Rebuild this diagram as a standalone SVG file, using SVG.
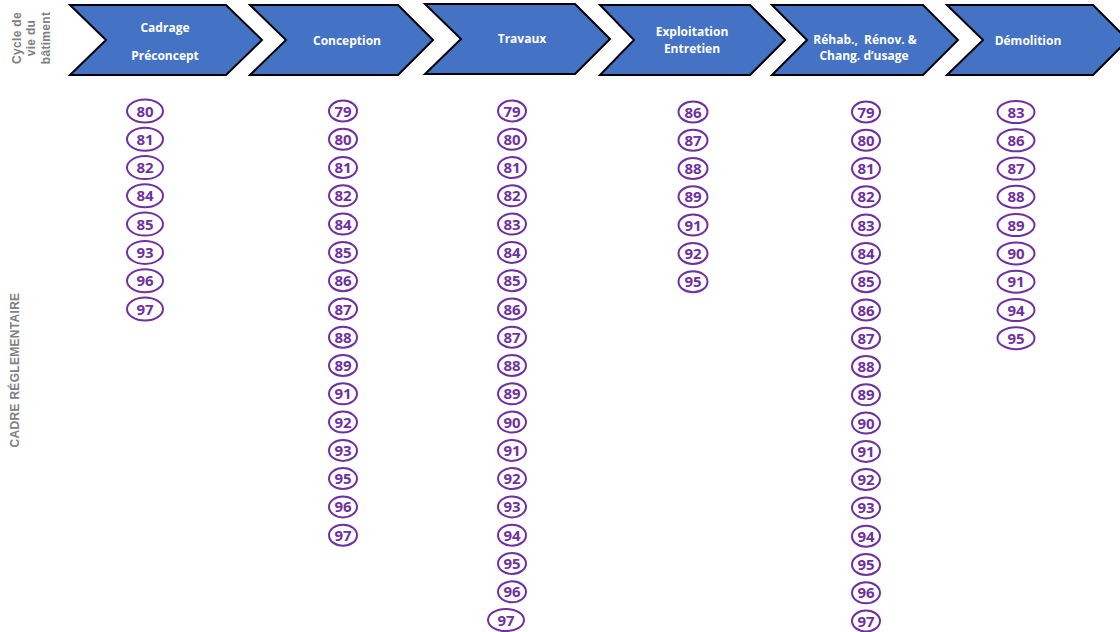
<svg xmlns="http://www.w3.org/2000/svg" width="1120" height="632" viewBox="0 0 1120 632">
  <style>
    .chev { fill: #4472C4; stroke: #000; stroke-width: 2; stroke-linejoin: miter; }
    .lbl { font-family: "Open Sans", "Liberation Sans", sans-serif; font-weight: 700; font-size: 12px; fill: #fff; text-anchor: middle; }
    .side { font-family: "Liberation Sans", Arial, sans-serif; font-weight: 700; font-size: 12px; fill: #808080; text-anchor: middle; letter-spacing: 0.3px; }
    .tag ellipse { fill: #fff; stroke: #7030A0; stroke-width: 2; }
    .tag text { font-family: "Open Sans", "Liberation Sans", sans-serif; font-weight: 700; font-size: 15px; fill: #7030A0; text-anchor: middle; }
  </style>

  <!-- side titles -->
  <g id="side-cycle">
    <text class="side" transform="translate(21,38) rotate(-90)">Cycle de</text>
    <text class="side" transform="translate(35,38) rotate(-90)">vie du</text>
    <text class="side" transform="translate(50,38) rotate(-90)">bâtiment</text>
  </g>
  <g id="side-cadre">
    <text class="side" transform="translate(19,370) rotate(-90)">CADRE RÉGLEMENTAIRE</text>
  </g>

  <!-- life-cycle phases -->
  <g id="phase-cadrage">
    <polygon class="chev" points="70,5 226,5 262,40 226,75 70,75 106,40"/>
    <text class="lbl" x="165" y="32">Cadrage</text>
    <text class="lbl" x="165" y="60">Préconcept</text>
  </g>
  <g id="phase-conception">
    <polygon class="chev" points="250,5 398,5 433,40 398,75 250,75 286,40"/>
    <text class="lbl" x="347" y="45">Conception</text>
  </g>
  <g id="phase-travaux">
    <polygon class="chev" points="425,4 575,4 610,39 575,74 425,74 461,39"/>
    <text class="lbl" x="522" y="43">Travaux</text>
  </g>
  <g id="phase-exploitation">
    <polygon class="chev" points="600,5 750,5 785,40 750,75 600,75 634,40"/>
    <text class="lbl" x="692" y="36">Exploitation</text>
    <text class="lbl" x="692" y="53">Entretien</text>
  </g>
  <g id="phase-rehab">
    <polygon class="chev" points="772,5 923,5 958,40 923,75 772,75 807,40"/>
    <text class="lbl" x="865" y="44" xml:space="preserve">Réhab.,  Rénov. &amp;</text>
    <text class="lbl" x="864" y="60">Chang. d’usage</text>
  </g>
  <g id="phase-demolition">
    <polygon class="chev" points="947,5 1093,5 1128,40 1093,75 947,75 983,40"/>
    <text class="lbl" x="1028" y="45">Démolition</text>
  </g>

  <!-- regulation references, one column per phase (row pitch 28.28) -->
  <g id="refs-cadrage" class="tag">
    <g id="c1-80"><ellipse cx="145" cy="111" rx="18" ry="11.5"/><text x="145" y="116.5">80</text></g>
    <g id="c1-81"><ellipse cx="145" cy="139.3" rx="18" ry="11.5"/><text x="145" y="144.8">81</text></g>
    <g id="c1-82"><ellipse cx="145" cy="167.6" rx="18" ry="11.5"/><text x="145" y="173.1">82</text></g>
    <g id="c1-84"><ellipse cx="145" cy="195.8" rx="18" ry="11.5"/><text x="145" y="201.3">84</text></g>
    <g id="c1-85"><ellipse cx="145" cy="224.1" rx="18" ry="11.5"/><text x="145" y="229.6">85</text></g>
    <g id="c1-93"><ellipse cx="145" cy="252.4" rx="18" ry="11.5"/><text x="145" y="257.9">93</text></g>
    <g id="c1-96"><ellipse cx="145" cy="280.7" rx="18" ry="11.5"/><text x="145" y="286.2">96</text></g>
    <g id="c1-97"><ellipse cx="145" cy="309" rx="18" ry="11.5"/><text x="145" y="314.5">97</text></g>
  </g>

  <g id="refs-conception" class="tag">
    <g id="c2-79"><ellipse cx="343" cy="111" rx="14" ry="10.5"/><text x="343" y="116.5">79</text></g>
    <g id="c2-80"><ellipse cx="343" cy="139.3" rx="14" ry="10.5"/><text x="343" y="144.8">80</text></g>
    <g id="c2-81"><ellipse cx="343" cy="167.6" rx="14" ry="10.5"/><text x="343" y="173.1">81</text></g>
    <g id="c2-82"><ellipse cx="343" cy="195.8" rx="14" ry="10.5"/><text x="343" y="201.3">82</text></g>
    <g id="c2-84"><ellipse cx="343" cy="224.1" rx="14" ry="10.5"/><text x="343" y="229.6">84</text></g>
    <g id="c2-85"><ellipse cx="343" cy="252.4" rx="14" ry="10.5"/><text x="343" y="257.9">85</text></g>
    <g id="c2-86"><ellipse cx="343" cy="280.7" rx="14" ry="10.5"/><text x="343" y="286.2">86</text></g>
    <g id="c2-87"><ellipse cx="343" cy="309" rx="14" ry="10.5"/><text x="343" y="314.5">87</text></g>
    <g id="c2-88"><ellipse cx="343" cy="337.2" rx="14" ry="10.5"/><text x="343" y="342.7">88</text></g>
    <g id="c2-89"><ellipse cx="343" cy="365.5" rx="14" ry="10.5"/><text x="343" y="371">89</text></g>
    <g id="c2-91"><ellipse cx="343" cy="393.8" rx="14" ry="10.5"/><text x="343" y="399.3">91</text></g>
    <g id="c2-92"><ellipse cx="343" cy="422.1" rx="14" ry="10.5"/><text x="343" y="427.6">92</text></g>
    <g id="c2-93"><ellipse cx="343" cy="450.4" rx="14" ry="10.5"/><text x="343" y="455.9">93</text></g>
    <g id="c2-95"><ellipse cx="343" cy="478.6" rx="14" ry="10.5"/><text x="343" y="484.1">95</text></g>
    <g id="c2-96"><ellipse cx="343" cy="506.9" rx="14" ry="10.5"/><text x="343" y="512.4">96</text></g>
    <g id="c2-97"><ellipse cx="343" cy="535.2" rx="14" ry="10.5"/><text x="343" y="540.7">97</text></g>
  </g>

  <g id="refs-travaux" class="tag">
    <g id="c3-79"><ellipse cx="512" cy="111" rx="14" ry="10.5"/><text x="512" y="116.5">79</text></g>
    <g id="c3-80"><ellipse cx="512" cy="139.3" rx="14" ry="10.5"/><text x="512" y="144.8">80</text></g>
    <g id="c3-81"><ellipse cx="512" cy="167.6" rx="14" ry="10.5"/><text x="512" y="173.1">81</text></g>
    <g id="c3-82"><ellipse cx="512" cy="195.8" rx="14" ry="10.5"/><text x="512" y="201.3">82</text></g>
    <g id="c3-83"><ellipse cx="512" cy="224.1" rx="14" ry="10.5"/><text x="512" y="229.6">83</text></g>
    <g id="c3-84"><ellipse cx="512" cy="252.4" rx="14" ry="10.5"/><text x="512" y="257.9">84</text></g>
    <g id="c3-85"><ellipse cx="512" cy="280.7" rx="14" ry="10.5"/><text x="512" y="286.2">85</text></g>
    <g id="c3-86"><ellipse cx="512" cy="309" rx="14" ry="10.5"/><text x="512" y="314.5">86</text></g>
    <g id="c3-87"><ellipse cx="512" cy="337.2" rx="14" ry="10.5"/><text x="512" y="342.7">87</text></g>
    <g id="c3-88"><ellipse cx="512" cy="365.5" rx="14" ry="10.5"/><text x="512" y="371">88</text></g>
    <g id="c3-89"><ellipse cx="512" cy="393.8" rx="14" ry="10.5"/><text x="512" y="399.3">89</text></g>
    <g id="c3-90"><ellipse cx="512" cy="422.1" rx="14" ry="10.5"/><text x="512" y="427.6">90</text></g>
    <g id="c3-91"><ellipse cx="512" cy="450.4" rx="14" ry="10.5"/><text x="512" y="455.9">91</text></g>
    <g id="c3-92"><ellipse cx="512" cy="478.6" rx="14" ry="10.5"/><text x="512" y="484.1">92</text></g>
    <g id="c3-93"><ellipse cx="512" cy="506.9" rx="14" ry="10.5"/><text x="512" y="512.4">93</text></g>
    <g id="c3-94"><ellipse cx="512" cy="535.2" rx="14" ry="10.5"/><text x="512" y="540.7">94</text></g>
    <g id="c3-95"><ellipse cx="512" cy="563.5" rx="14" ry="10.5"/><text x="512" y="569">95</text></g>
    <g id="c3-96"><ellipse cx="512" cy="591.8" rx="14" ry="10.5"/><text x="512" y="597.3">96</text></g>
    <g id="c3-97"><ellipse cx="506" cy="620" rx="18" ry="11"/><text x="506" y="625.5">97</text></g>
  </g>

  <g id="refs-exploitation" class="tag">
    <g id="c4-86"><ellipse cx="693" cy="112" rx="14.5" ry="10.5"/><text x="693" y="117.5">86</text></g>
    <g id="c4-87"><ellipse cx="693" cy="140.3" rx="14.5" ry="10.5"/><text x="693" y="145.8">87</text></g>
    <g id="c4-88"><ellipse cx="693" cy="168.6" rx="14.5" ry="10.5"/><text x="693" y="174.1">88</text></g>
    <g id="c4-89"><ellipse cx="693" cy="196.8" rx="14.5" ry="10.5"/><text x="693" y="202.3">89</text></g>
    <g id="c4-91"><ellipse cx="693" cy="225.1" rx="14.5" ry="10.5"/><text x="693" y="230.6">91</text></g>
    <g id="c4-92"><ellipse cx="693" cy="253.4" rx="14.5" ry="10.5"/><text x="693" y="258.9">92</text></g>
    <g id="c4-95"><ellipse cx="693" cy="281.7" rx="14.5" ry="10.5"/><text x="693" y="287.2">95</text></g>
  </g>

  <g id="refs-rehab" class="tag">
    <g id="c5-79"><ellipse cx="866" cy="112" rx="14" ry="10.5"/><text x="866" y="117.5">79</text></g>
    <g id="c5-80"><ellipse cx="866" cy="140.3" rx="14" ry="10.5"/><text x="866" y="145.8">80</text></g>
    <g id="c5-81"><ellipse cx="866" cy="168.6" rx="14" ry="10.5"/><text x="866" y="174.1">81</text></g>
    <g id="c5-82"><ellipse cx="866" cy="196.8" rx="14" ry="10.5"/><text x="866" y="202.3">82</text></g>
    <g id="c5-83"><ellipse cx="866" cy="225.1" rx="14" ry="10.5"/><text x="866" y="230.6">83</text></g>
    <g id="c5-84"><ellipse cx="866" cy="253.4" rx="14" ry="10.5"/><text x="866" y="258.9">84</text></g>
    <g id="c5-85"><ellipse cx="866" cy="281.7" rx="14" ry="10.5"/><text x="866" y="287.2">85</text></g>
    <g id="c5-86"><ellipse cx="866" cy="310" rx="14" ry="10.5"/><text x="866" y="315.5">86</text></g>
    <g id="c5-87"><ellipse cx="866" cy="338.2" rx="14" ry="10.5"/><text x="866" y="343.7">87</text></g>
    <g id="c5-88"><ellipse cx="866" cy="366.5" rx="14" ry="10.5"/><text x="866" y="372">88</text></g>
    <g id="c5-89"><ellipse cx="866" cy="394.8" rx="14" ry="10.5"/><text x="866" y="400.3">89</text></g>
    <g id="c5-90"><ellipse cx="866" cy="423.1" rx="14" ry="10.5"/><text x="866" y="428.6">90</text></g>
    <g id="c5-91"><ellipse cx="866" cy="451.4" rx="14" ry="10.5"/><text x="866" y="456.9">91</text></g>
    <g id="c5-92"><ellipse cx="866" cy="479.6" rx="14" ry="10.5"/><text x="866" y="485.1">92</text></g>
    <g id="c5-93"><ellipse cx="866" cy="507.9" rx="14" ry="10.5"/><text x="866" y="513.4">93</text></g>
    <g id="c5-94"><ellipse cx="866" cy="536.2" rx="14" ry="10.5"/><text x="866" y="541.7">94</text></g>
    <g id="c5-95"><ellipse cx="866" cy="564.5" rx="14" ry="10.5"/><text x="866" y="570">95</text></g>
    <g id="c5-96"><ellipse cx="866" cy="592.8" rx="14" ry="10.5"/><text x="866" y="598.3">96</text></g>
    <g id="c5-97"><ellipse cx="866" cy="621" rx="14" ry="10.5"/><text x="866" y="626.5">97</text></g>
  </g>

  <g id="refs-demolition" class="tag">
    <g id="c6-83"><ellipse cx="1016" cy="112" rx="18.5" ry="11"/><text x="1016" y="117.5">83</text></g>
    <g id="c6-86"><ellipse cx="1016" cy="140.3" rx="18.5" ry="11"/><text x="1016" y="145.8">86</text></g>
    <g id="c6-87"><ellipse cx="1016" cy="168.6" rx="18.5" ry="11"/><text x="1016" y="174.1">87</text></g>
    <g id="c6-88"><ellipse cx="1016" cy="196.8" rx="18.5" ry="11"/><text x="1016" y="202.3">88</text></g>
    <g id="c6-89"><ellipse cx="1016" cy="225.1" rx="18.5" ry="11"/><text x="1016" y="230.6">89</text></g>
    <g id="c6-90"><ellipse cx="1016" cy="253.4" rx="18.5" ry="11"/><text x="1016" y="258.9">90</text></g>
    <g id="c6-91"><ellipse cx="1016" cy="281.7" rx="18.5" ry="11"/><text x="1016" y="287.2">91</text></g>
    <g id="c6-94"><ellipse cx="1016" cy="310" rx="18.5" ry="11"/><text x="1016" y="315.5">94</text></g>
    <g id="c6-95"><ellipse cx="1016" cy="338.2" rx="18.5" ry="11"/><text x="1016" y="343.7">95</text></g>
  </g>
</svg>
